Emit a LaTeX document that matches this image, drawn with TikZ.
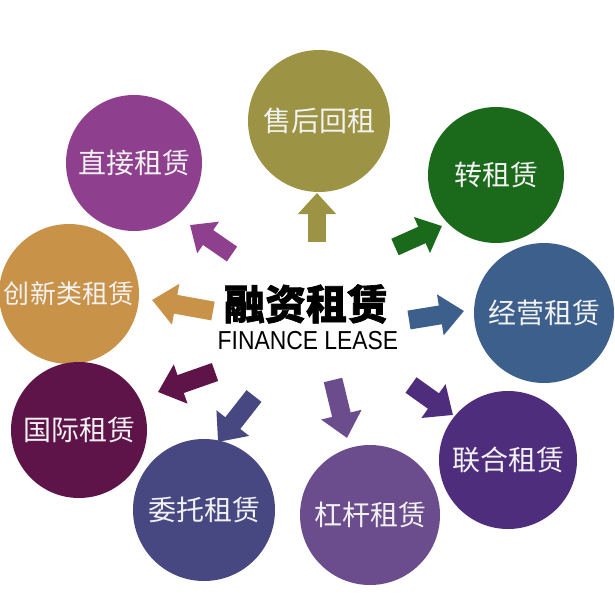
\documentclass[tikz,border=0pt]{standalone}
\usepackage{fontspec}
\usepackage{graphicx}
\setmainfont{Liberation Sans}
\newfontfamily\cjk{Noto Sans CJK SC}
\newfontfamily\cjkheavy{Noto Sans CJK SC}[BoldFeatures={FakeBold=1.6}]
\usetikzlibrary{arrows.meta}
\definecolor{cOlive}{HTML}{9C9444}
\definecolor{cPurple}{HTML}{8E3F8E}
\definecolor{cGreen}{HTML}{1B6A1B}
\definecolor{cBlue}{HTML}{3C5F8C}
\definecolor{cTan}{HTML}{C99249}
\definecolor{cMaroon}{HTML}{5F1449}
\definecolor{cIndigo}{HTML}{474882}
\definecolor{cLever}{HTML}{6B4C8D}
\definecolor{cJoint}{HTML}{4F2D7D}
\definecolor{cText}{HTML}{F2F2F2}
\tikzset{
  bubble/.style={circle, inner sep=0pt, minimum size=#1, text=cText,
    font=\cjk\fontsize{28}{30}\selectfont},
  bigarrow/.style={line width=19pt, -{Triangle[length=24pt,width=40pt]}},
}
\begin{document}
\begin{tikzpicture}[x=1pt,y=-1pt]
\useasboundingbox (0,0) rectangle (615,615);
\fill[white] (0,0) rectangle (615,615);
% circles
\node[bubble=142pt, fill=cOlive] (shouhou) at (319,121) {售后回租};
\node[bubble=136pt, fill=cPurple] (zhijie) at (134,163) {直接租赁};
\node[bubble=136pt, fill=cGreen] (zhuan) at (496,175) {转租赁};
\node[bubble=140pt, fill=cBlue] (jingying) at (544,313) {经营租赁};
\node[bubble=140pt, fill=cTan, font=\cjk\fontsize{26}{28}\selectfont] (chuangxin) at (69,294) {创新类租赁};
\node[bubble=136pt, fill=cMaroon] (guoji) at (79,430) {国际租赁};
\node[bubble=142pt, fill=cIndigo] (weituo) at (204,510) {委托租赁};
\node[bubble=140pt, fill=cLever] (ganggan) at (370,515) {杠杆租赁};
\node[bubble=138pt, fill=cJoint] (lianhe) at (508,460) {联合租赁};
% centre
\node[font=\cjkheavy\bfseries\fontsize{41}{43}\selectfont, text=black] (title) at (306,304) {融资租赁};
\node[font=\fontsize{26}{28}\selectfont, text=black] (sub) at (308,341) {\scalebox{0.88}[1]{FINANCE LEASE}};
% arrow coordinates
\coordinate (t1) at (317,242); \coordinate (h1) at (317,193);
\coordinate (t2) at (232,254); \coordinate (h2) at (190,225);
\coordinate (t3) at (395,247); \coordinate (h3) at (442,226);
\coordinate (t4) at (409,320); \coordinate (h4) at (464,311);
\coordinate (t5) at (213,311); \coordinate (h5) at (152,300);
\coordinate (t6) at (215,372); \coordinate (h6) at (158,392);
\coordinate (t7) at (254,396); \coordinate (h7) at (218,442);
\coordinate (t8) at (333,380); \coordinate (h8) at (347,438);
\coordinate (t9) at (411,385); \coordinate (h9) at (453,415);
\draw[bigarrow, cOlive, line width=18pt, -{Triangle[length=21pt,width=37pt]}] (t1) -- (h1);
\draw[bigarrow, cPurple, line width=18pt, -{Triangle[length=22pt,width=37pt]}] (t2) -- (h2);
\draw[bigarrow, cGreen, line width=18pt, -{Triangle[length=22pt,width=38pt]}] (t3) -- (h3);
\draw[bigarrow, cBlue] (t4) -- (h4);
\draw[bigarrow, cTan] (t5) -- (h5);
\draw[bigarrow, cMaroon] (t6) -- (h6);
\draw[bigarrow, cIndigo] (t7) -- (h7);
\draw[bigarrow, cLever] (t8) -- (h8);
\draw[bigarrow, cJoint] (t9) -- (h9);
\end{tikzpicture}
\end{document}
